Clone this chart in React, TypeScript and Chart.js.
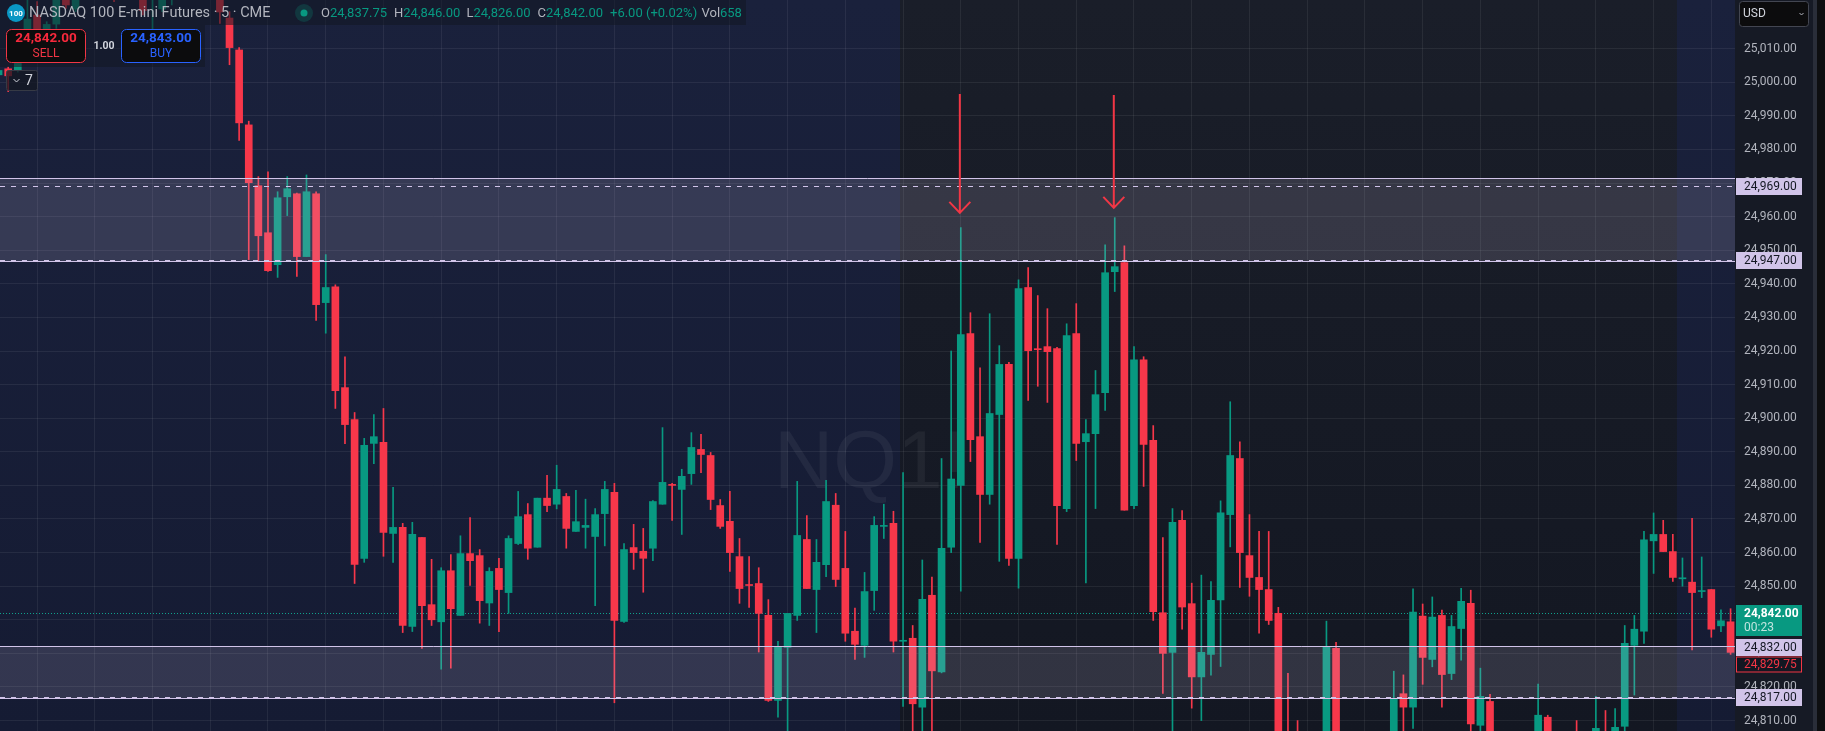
import { useEffect, useRef } from "react";
import { Chart, registerables } from "chart.js";

Chart.register(...registerables);

// Candle values, first entry is candle -1 (index = position - 1). null = candle lies off the picture.
const opens = [
  25002.2,25004,25003.7,25015.6,25020,25015.9,25017.3,25027,25021.8,null,
  null,null,25035,null,null,25027,25034,25021.8,25030,null,
  null,null,null,25027,25019.1,25009.6,24987.3,24969.2,24955.2,24945.7,
  24965.9,24966.8,24948.1,24966.8,24934.4,24939.1,24909.1,24899.6,24858.3,24892.5,
  24892.8,24865.7,24867.5,24838,24864.5,24844.5,24839.4,24854.6,24841.3,24859.7,
  24859.1,24845,24855.3,24848.1,24862.7,24871.3,24861.6,24876.2,24874.4,24876.7,
  24866.3,24867.5,24864.8,24871.6,24877.9,24839.5,24861.5,24860.4,24861.3,24874.4,
  24880.3,24878.8,24883.5,24890.7,24888.9,24874,24869.3,24858.8,24850.5,24850.8,
  24841.3,24816,24831.8,24841.3,24863.9,24849,24856.4,24874.1,24855.3,24836.6,
  24832.4,24848.7,24867.8,24868.7,24833.6,24834.5,24814,24847.3,24824.5,24861.6,
  24880,24925.2,24894.5,24877.3,24901.1,24916,24858.3,24938.9,24920.6,24921.3,
  24920.7,24873.1,24925.2,24893,24895.4,24907.6,24943.6,24946.3,24874,24917.4,
  24893.4,24842.1,24830.3,24869.6,24844.8,24823,24829.7,24845.9,24871.3,24888,
  24859.1,24852.6,24849,24841.9,24805,24804,null,null,24800,24831.5,
  null,null,null,null,null,24800,24818,24814,24841.1,24828.2,
  24841.3,24824,24837.4,24844.9,24808.6,24815.7,null,null,null,null,
  24800,24811,null,null,24805,null,24800,24806,24800,24808.3,
  24832.4,24836.6,24863.5,24865.4,24860.3,24852.2,24851.2,24848.4,24849,24838.2,24839.4,
];
const closes = [
  25003.5,25001.9,25005.6,25018.8,25015.9,25017.2,25024.5,25023,25027,null,
  null,null,25032,null,null,25021.3,25036,25027,25032,null,
  null,null,null,25020.9,25010.3,24987.9,24970.1,24954.3,24943.9,24965.6,
  24968.3,24948.1,24967.4,24933.8,24938.9,24908.2,24898.1,24856.5,24891.9,24894.5,
  24866,24867.5,24838.3,24865.4,24844.2,24840,24854.6,24843.3,24859.7,24857.6,
  24845.7,24854.4,24849,24864.2,24870.7,24861.3,24876.2,24874,24878.8,24867.2,
  24869.2,24868.1,24871.3,24878.8,24839.8,24860.9,24860,24858.3,24875.2,24880.9,
  24880,24882.7,24891.3,24889.2,24875.8,24867.8,24860,24849.3,24850.2,24841.9,
  24816,24831.8,24841.9,24865.1,24849.3,24857.1,24875.2,24852,24836,24832.7,
  24848.4,24868.1,24868.1,24833.6,24833.9,24815,24846.1,24824.8,24861.3,24881.9,
  24924.9,24893.6,24877.3,24901.4,24916,24858.3,24938.6,24920.1,24920.4,24919.8,
  24874,24924.6,24892.5,24895.4,24907,24943.3,24945.1,24872.6,24917.4,24892.2,
  24842.4,24830,24869,24843.8,24823,24830.3,24845.8,24871.8,24888.9,24860,
  24852.6,24849,24839.8,24795,24790,24795,null,null,24831.8,24800,
  null,null,null,null,null,24816.4,24814,24842.3,24828.8,24840.8,
  24823.7,24838,24845.5,24809,24817.2,24800,null,null,null,null,
  24811.6,24800,null,null,24800,null,24807.7,24800,24808,24833,
  24837.2,24863.8,24865.4,24860.3,24852.6,24852.5,24848.1,24848.7,24837.2,24839.7,24830.3,
];
const highs = [
  25004,25004.5,25007,25030,25024,25018,25030,25030,25030,null,
  null,null,25040,null,null,25030,25040,25030,25035,null,
  null,null,null,25030,25021,25010.3,24988.4,24971.9,24973.3,24967.4,
  24971.9,24967,24972.4,24967.4,24948.7,24939.7,24918.3,24901.7,24894,24901.1,
  24902.9,24879.4,24868.7,24869,24864.5,24858,24855.5,24859.4,24865,24870.4,
  24860.9,24855.5,24858.3,24865,24878.2,24874.6,24876.2,24883,24886,24877.6,
  24878.5,24875.9,24873.1,24881.2,24880.6,24862.7,24868.4,24867.2,24875.5,24897.2,
  24880.6,24884.8,24895.7,24895.2,24889.8,24875.8,24878.2,24864.2,24858.8,24855.5,
  24846,24833.6,24841.9,24881.2,24871,24863.9,24881.5,24877.6,24866.3,24843.5,
  24854.1,24870.7,24874.4,24872.3,24883.8,24838.3,24857.8,24852.7,24888,24920,
  24956.7,24931.4,24915,24931.1,24921.6,24916.6,24941.2,24944.8,24936.5,24932.6,
  24921.1,24928.1,24934.1,24899.6,24914.2,24951.6,24959.7,24951.3,24921.3,24918.3,
  24897.8,24864.5,24873.1,24872.5,24850.9,24853.3,24851.4,24875.4,24904.9,24893,
  24871.3,24866.3,24866.3,24843.7,24824.1,24810,null,null,24839.6,24833.3,
  null,null,null,null,null,24824.7,24823.6,24849.2,24844.7,24846.8,
  24842.9,24841.3,24849.4,24848.8,24825.6,24817.8,null,null,null,null,
  24820.9,24811.6,null,null,24810,null,24817.2,24813,24813.6,24838.3,
  24841.3,24866.3,24871.8,24869.6,24865.4,24858.4,24870.2,24858.7,24849,24843,24843.3,
];
const lows = [
  25001.5,24997.2,25003,25015,25014,25015,25016,25022,25021,null,
  null,null,25024,null,null,25020,25015.8,25021,25023,null,
  null,null,null,25017.5,25005.2,24982.7,24947.2,24946.7,24943.7,24941.9,
  24960.3,24942.2,24948.1,24929.1,24925.3,24902.9,24892.4,24850.8,24857.1,24886.5,
  24858.9,24857.1,24836.2,24836.5,24831.5,24838.3,24825.3,24825.6,24841.3,24850.2,
  24839,24838.3,24836.5,24841.9,24862.4,24858,24861.6,24872.2,24873,24861.3,
  24866.3,24861.3,24844.2,24862,24815.3,24839.2,24855,24848.2,24857.6,24874.4,
  24869.6,24865.4,24880.3,24883.8,24872.8,24867.2,24854.4,24844.9,24843.7,24830.4,
  24815.7,24811,24805,24839.8,24849.3,24836.2,24852.8,24849.9,24833.6,24828.2,
  24828.8,24842.8,24864.2,24830.4,24814.2,24803,24804,24802,24824.2,24860,
  24848.5,24887.1,24863,24874.4,24857.4,24856.2,24849.4,24905.3,24909.5,24904.7,
  24862.4,24872.2,24887.4,24851,24873.1,24902.3,24937.7,24872.6,24873.1,24879.7,
  24839.8,24818.1,24805,24837.2,24813.7,24810,24823.5,24826.1,24861.7,24849.6,
  24847,24836,24838.6,24795,24785,24790,null,null,24795,24795,
  null,null,null,null,null,24795,24800,24807.7,24820.8,24826,
  24814,24822.2,24828,24804,24803,24795,null,null,null,null,
  24795,24795,null,null,24795,null,24795,24795,24795,24806,
  24817.6,24833,24853.8,24860.3,24851.4,24850,24831,24846.6,24834.8,24836.5,24829.7,
];

const priceTicks = [
  25010,25000,24990,24980,24970,24960,24950,24940,24930,24920,24910,24900,24890,24880,
  24870,24860,24850,24840,24830,24820,24810,
];
const timeGrid = [
  3,9,15,21,27,33,39,45,51,57,63,69,75,81,87,93,99,105,111,117,123,129,135,141,147,153,159,165,171,177,
];

const closedSession = [92.68, 173.43]; // candle positions where the dark session starts and ends
const zones = [
  { top: 24971.2, bottom: 24946.5, dashed: [24969, 24947] },
  { top: 24832, bottom: 24816.6, dashed: [24817] },
];
const arrows = [
  { x: 98.9, from: 24996.5, to: 24961.1 },
  { x: 114.9, from: 24996.2, to: 24962.6 },
];
const lastPrice = 24842;
const countdown = "00:23";
const zoneTags = [24969, 24947, 24832, 24817];
const sellPrice = 24842;
const buyPrice = 24843;
const markPrice = 24829.75;
const legendOHLC = [
  { k: "O", v: "24,837.75", x: 321 },
  { k: "H", v: "24,846.00", x: 394 },
  { k: "L", v: "24,826.00", x: 466.5 },
  { k: "C", v: "24,842.00", x: 537.5 },
];

const RED = "#f7374a";
const GREEN = "#089981";
const LILAC = "#d1c4e9";
const FONT = "Roboto, sans-serif";

const fmt = (p: number) =>
  p.toLocaleString("en-US", { minimumFractionDigits: 2, maximumFractionDigits: 2 });

const candleRows = opens
  .map((o, i) => ({ x: i - 1, o, c: closes[i], h: highs[i], l: lows[i] }))
  .filter((r) => r.o !== null);

function roundBox(ctx: CanvasRenderingContext2D, x: number, y: number, w: number, h: number, r: number, fill: string, stroke?: string) {
  ctx.beginPath();
  ctx.roundRect(x, y, w, h, r);
  ctx.fillStyle = fill;
  ctx.fill();
  if (stroke) {
    ctx.strokeStyle = stroke;
    ctx.lineWidth = 1;
    ctx.stroke();
  }
}

function txt(ctx: CanvasRenderingContext2D, s: string, x: number, y: number, font: string, color: string, align: CanvasTextAlign = "left") {
  ctx.font = font;
  ctx.fillStyle = color;
  ctx.textAlign = align;
  ctx.textBaseline = "middle";
  ctx.fillText(s, x, y);
}

const tvPlugin = {
  id: "tvPlugin",
  beforeDraw(chart: any) {
    const { ctx, chartArea: a, scales } = chart;
    const W = chart.width;
    const H = chart.height;
    ctx.save();
    ctx.fillStyle = "#0e0f11";
    ctx.fillRect(0, 0, W, H);
    // axis column
    ctx.fillStyle = "#161a25";
    ctx.fillRect(a.right, 0, 78, H);
    ctx.fillStyle = "#2a2e39";
    ctx.fillRect(a.right + 78, 0, 4, H);
    // session backgrounds
    const navy = ctx.createLinearGradient(0, 0, 0, H);
    navy.addColorStop(0, "#1a213c");
    navy.addColorStop(1, "#151b33");
    const gray = ctx.createLinearGradient(0, 0, 0, H);
    gray.addColorStop(0, "#1a1e29");
    gray.addColorStop(1, "#131722");
    const sx = scales.x.getPixelForValue(closedSession[0]);
    const ex = scales.x.getPixelForValue(closedSession[1]);
    ctx.fillStyle = navy;
    ctx.fillRect(0, 0, a.right, H);
    ctx.fillStyle = gray;
    ctx.fillRect(sx, 0, ex - sx, H);
    ctx.restore();
  },
  beforeDatasetsDraw(chart: any) {
    const { ctx, chartArea: a, scales } = chart;
    ctx.save();
    // watermark
    ctx.font = "82px 'Liberation Sans', sans-serif";
    ctx.fillStyle = "rgba(255,255,255,0.055)";
    ctx.textAlign = "left";
    ctx.textBaseline = "alphabetic";
    ctx.fillText("NQ1!", 774, 488);
    // last-price dotted line
    const y = Math.round(scales.y.getPixelForValue(lastPrice)) + 0.5;
    ctx.strokeStyle = "#0fa08c";
    ctx.lineWidth = 1;
    ctx.setLineDash([1, 2]);
    ctx.beginPath();
    ctx.moveTo(0, y);
    ctx.lineTo(a.right, y);
    ctx.stroke();
    ctx.restore();
  },
  afterDatasetsDraw(chart: any) {
    const { ctx, chartArea: a, scales } = chart;
    ctx.save();
    ctx.beginPath();
    ctx.rect(0, 0, a.right, a.bottom);
    ctx.clip();
    for (const z of zones) {
      const t = Math.floor(scales.y.getPixelForValue(z.top));
      const b = Math.floor(scales.y.getPixelForValue(z.bottom));
      ctx.fillStyle = "rgba(209,196,233,0.16)";
      ctx.fillRect(0, t, a.right, b - t);
      ctx.strokeStyle = LILAC;
      ctx.lineWidth = 1;
      ctx.setLineDash([]);
      for (const yy of [t, b]) {
        ctx.beginPath();
        ctx.moveTo(0, yy + 0.5);
        ctx.lineTo(a.right, yy + 0.5);
        ctx.stroke();
      }
      ctx.setLineDash([5, 6]);
      for (const d of z.dashed) {
        const yy = Math.floor(scales.y.getPixelForValue(d)) + 0.5;
        ctx.beginPath();
        ctx.moveTo(0, yy);
        ctx.lineTo(a.right, yy);
        ctx.stroke();
      }
    }
    ctx.setLineDash([]);
    // arrows
    ctx.strokeStyle = "#f23645";
    ctx.lineWidth = 2;
    for (const ar of arrows) {
      const x = scales.x.getPixelForValue(ar.x);
      const y0 = scales.y.getPixelForValue(ar.from);
      const y1 = scales.y.getPixelForValue(ar.to);
      ctx.beginPath();
      ctx.moveTo(x, y0);
      ctx.lineTo(x, y1);
      ctx.moveTo(x - 10.5, y1 - 11);
      ctx.lineTo(x, y1);
      ctx.lineTo(x + 10.5, y1 - 11);
      ctx.stroke();
    }
    ctx.restore();
  },
  afterDraw(chart: any) {
    const { ctx, scales } = chart;
    ctx.save();
    // ---- legend backdrops
    ctx.fillStyle = "rgba(19,23,34,0.55)";
    ctx.fillRect(0, 0, 746, 25);
    ctx.fillRect(0, 25, 205, 42);
    // logo
    ctx.beginPath();
    ctx.arc(16, 13, 9, 0, Math.PI * 2);
    ctx.fillStyle = "#0a97c4";
    ctx.fill();
    txt(ctx, "100", 16, 13.5, "bold 8px " + FONT, "#ffffff", "center");
    // title
    txt(ctx, "NASDAQ 100 E-mini Futures · 5 · CME", 29, 13.5, "14.5px " + FONT, "#b2b5be");
    // market status dot
    ctx.beginPath();
    ctx.arc(304, 13, 9, 0, Math.PI * 2);
    ctx.fillStyle = "rgba(8,153,129,0.22)";
    ctx.fill();
    ctx.beginPath();
    ctx.arc(304, 13, 3.5, 0, Math.PI * 2);
    ctx.fillStyle = GREEN;
    ctx.fill();
    // OHLC
    for (const e of legendOHLC) {
      txt(ctx, e.k, e.x, 13.5, "13px " + FONT, "#b2b5be");
      const kw = ctx.measureText(e.k).width;
      txt(ctx, e.v, e.x + kw, 13.5, "13px " + FONT, GREEN);
    }
    txt(ctx, "+6.00 (+0.02%)", 610, 13.5, "13px " + FONT, GREEN);
    txt(ctx, "Vol", 701.5, 13.5, "13px " + FONT, "#b2b5be");
    txt(ctx, "658", 720, 13.5, "13px " + FONT, GREEN);
    // buy / sell
    roundBox(ctx, 6.5, 29.5, 79, 33, 5, "#0c0c0d", "#f23645");
    txt(ctx, fmt(sellPrice), 46, 39, "bold 13.5px " + FONT, "#f7293c", "center");
    txt(ctx, "SELL", 46, 53.5, "12px " + FONT, "#f23645", "center");
    txt(ctx, "1.00", 104, 46, "bold 10.5px " + FONT, "#d1d4dc", "center");
    roundBox(ctx, 121.5, 29.5, 79, 33, 5, "#0c0c0d", "#2962ff");
    txt(ctx, fmt(buyPrice), 161, 39, "bold 13.5px " + FONT, "#2962ff", "center");
    txt(ctx, "BUY", 161, 53.5, "12px " + FONT, "#2962ff", "center");
    // orders chip
    roundBox(ctx, 6.5, 70.5, 31, 20, 2, "rgba(19,23,34,0.75)", "#363a45");
    ctx.strokeStyle = "#d1d4dc";
    ctx.lineWidth = 1;
    ctx.beginPath();
    ctx.moveTo(13.5, 79);
    ctx.lineTo(16.5, 82);
    ctx.lineTo(19.5, 79);
    ctx.stroke();
    txt(ctx, "7", 25, 81, "14px " + FONT, "#d1d4dc");
    // currency
    roundBox(ctx, 1739.5, 1.5, 69, 25, 3, "#0c0c0d", "#434651");
    txt(ctx, "USD", 1743, 14, "12px " + FONT, "#d1d4dc");
    ctx.strokeStyle = "#b2b5be";
    ctx.beginPath();
    ctx.moveTo(1799.5, 13);
    ctx.lineTo(1801.5, 15);
    ctx.lineTo(1803.5, 13);
    ctx.stroke();
    // price tags
    const tagX = 1736;
    const tagW = 66;
    const py = (p: number) => scales.y.getPixelForValue(p);
    for (const z of zoneTags) {
      const c = Math.round(py(z));
      ctx.fillStyle = LILAC;
      ctx.fillRect(tagX, c - 8, tagW, 17);
      txt(ctx, fmt(z), 1744, c + 1, "12px " + FONT, "#131722");
    }
    // last price tag with countdown
    const lp = Math.round(py(lastPrice));
    ctx.fillStyle = GREEN;
    ctx.fillRect(tagX, lp - 8, tagW, 31);
    txt(ctx, fmt(lastPrice), 1744, lp + 0.5, "bold 12px " + FONT, "#ffffff");
    txt(ctx, countdown, 1744, lp + 14.5, "12px " + FONT, "rgba(255,255,255,0.75)");
    // mark price tag, stacked under the zone tag
    const mp = Math.round(py(markPrice)) + 10;
    ctx.fillStyle = "#131722";
    ctx.fillRect(tagX, mp - 7.5, tagW, 16);
    ctx.strokeStyle = "#f23645";
    ctx.lineWidth = 1;
    ctx.strokeRect(tagX + 0.5, mp - 7, tagW - 1, 15);
    txt(ctx, fmt(markPrice), 1744, mp + 0.5, "12px " + FONT, "#f23645");
    ctx.restore();
  },
};

export default function App() {
  const ref = useRef<HTMLCanvasElement | null>(null);
  useEffect(() => {
    document.body.style.margin = "0";
    document.body.style.background = "#0e0f11";
    const colorFor = (c: any) => {
      const r = c.raw;
      return r && r.up ? GREEN : RED;
    };
    const chart = new Chart(ref.current as HTMLCanvasElement, {
      type: "bar",
      data: {
        datasets: [
          {
            label: "Wicks",
            data: candleRows.map((r) => ({ x: r.x, y: [r.l, r.h], up: (r.c as number) >= (r.o as number) })),
            barThickness: 1,
            grouped: false,
            order: 2,
            borderWidth: 0,
            backgroundColor: colorFor,
          },
          {
            label: "Bodies",
            data: candleRows.map((r) => ({ x: r.x, y: [r.o, r.c], up: (r.c as number) >= (r.o as number) })),
            barThickness: 7,
            minBarLength: 1,
            grouped: false,
            order: 1,
            borderWidth: 0,
            backgroundColor: colorFor,
          },
        ] as any,
      },
      options: {
        animation: false,
        responsive: false,
        devicePixelRatio: 1,
        layout: { padding: 0 },
        plugins: { legend: { display: false }, tooltip: { enabled: false } },
        scales: {
          x: {
            type: "linear",
            min: -0.852,
            max: 179.46,
            offset: false,
            grid: { offset: false, color: "rgba(255,255,255,0.065)", drawTicks: false },
            border: { display: false },
            ticks: { display: false },
            afterBuildTicks: (s: any) => {
              s.ticks = timeGrid.map((v) => ({ value: v }));
            },
            afterFit: (s: any) => {
              s.height = 0;
              s.paddingLeft = 0;
              s.paddingRight = 0;
            },
          },
          y: {
            type: "linear",
            position: "right",
            min: 24806.9,
            max: 25024.47,
            grid: { color: "rgba(255,255,255,0.065)", drawTicks: false },
            border: { display: false },
            afterBuildTicks: (s: any) => {
              s.ticks = priceTicks.map((v) => ({ value: v }));
            },
            afterFit: (s: any) => {
              s.width = 90;
              s.paddingTop = 0;
              s.paddingBottom = 0;
            },
            ticks: {
              autoSkip: false,
              padding: 9,
              align: "center",
              color: "#b2b5be",
              font: { family: "Roboto", size: 12 },
              callback: (v: any) => fmt(Number(v)),
            },
          },
        },
      } as any,
      plugins: [tvPlugin as any],
    });
    return () => chart.destroy();
  }, []);
  return <canvas ref={ref} width={1825} height={731} style={{ display: "block", width: 1825, height: 731 }} />;
}
